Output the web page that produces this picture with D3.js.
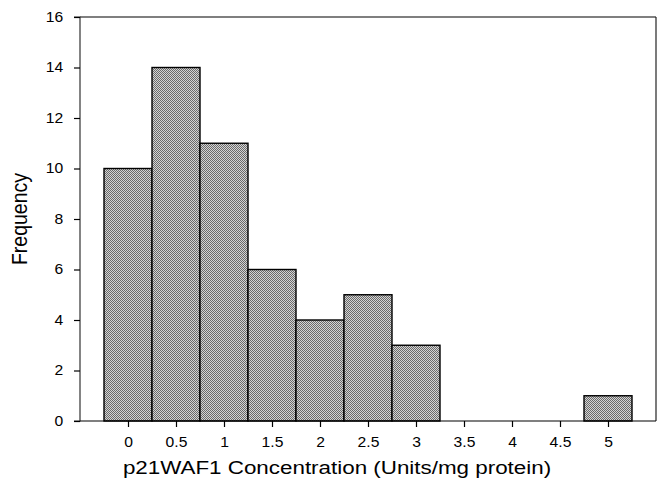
<!DOCTYPE html>
<html><head><meta charset="utf-8">
<script src="https://cdn.jsdelivr.net/npm/d3@7"></script>
<style>body{margin:0;background:#fff;} svg{display:block;font-family:"Liberation Sans",Arial,sans-serif;}</style>
</head><body>
<script>
const categories = [0, 0.5, 1, 1.5, 2, 2.5, 3, 3.5, 4, 4.5, 5];
const frequency = [10, 14, 11, 6, 4, 5, 3, 0, 0, 0, 1];
const yTicks = [0, 2, 4, 6, 8, 10, 12, 14, 16];
const xTickLabels = ["0","0.5","1","1.5","2","2.5","3","3.5","4","4.5","5"];

const W = 662, H = 485;
const svg = d3.select("body").append("svg").attr("width", W).attr("height", H);
const defs = svg.append("defs");
const pat = defs.append("pattern").attr("id","dither").attr("width",2).attr("height",2).attr("patternUnits","userSpaceOnUse");
pat.append("rect").attr("width",2).attr("height",2).attr("fill","#d4d4d4");
pat.append("rect").attr("x",0).attr("y",0).attr("width",1).attr("height",1).attr("fill","#6a6a6a");
pat.append("rect").attr("x",1).attr("y",1).attr("width",1).attr("height",1).attr("fill","#6a6a6a");

const L = 80, R = 656, T = 17, B = 421;
const x = d3.scaleLinear().domain([-0.5, 5.5]).range([L, R]);
const y = d3.scaleLinear().domain([0, 16]).range([B, T]);
const bw = 0.5;
const sx = 1.12;

// bars
svg.append("g").selectAll("rect").data(categories).join("rect")
  .attr("x", d => x(d - bw/2))
  .attr("width", d => x(d + bw/2) - x(d - bw/2))
  .attr("y", (d,i) => y(frequency[i]))
  .attr("height", (d,i) => y(0) - y(frequency[i]))
  .attr("fill", (d,i) => frequency[i] > 0 ? "url(#dither)" : "none")
  .attr("stroke", (d,i) => frequency[i] > 0 ? "#000" : "none")
  .attr("stroke-width", 1.4);

// frame top/right
svg.append("line").attr("x1",L).attr("x2",R).attr("y1",T).attr("y2",T).attr("stroke","#000").attr("stroke-width",1.2);
svg.append("line").attr("x1",R).attr("x2",R).attr("y1",T).attr("y2",B).attr("stroke","#222").attr("stroke-width",1.2);

// y axis
const yAxis = d3.axisLeft(y).tickValues(yTicks).tickFormat(d3.format("d")).tickSize(6).tickPadding(9);
const gy = svg.append("g").attr("transform",`translate(${L},0)`).call(yAxis);
gy.select(".domain").attr("stroke","#333").attr("stroke-width",1.2).attr("d",`M-6,${T}H0V${B}H-6`);
gy.selectAll(".tick line").attr("stroke","#000").attr("stroke-width",1.2);
gy.selectAll(".tick text").attr("font-size",14).attr("fill","#000")
  .attr("font-family","Liberation Sans, Arial, sans-serif")
  .attr("transform",`scale(${sx},1)`);

// x axis
const xAxis = d3.axisBottom(x).tickValues(categories).tickFormat((d,i) => xTickLabels[i]).tickSize(6).tickPadding(10);
const gx = svg.append("g").attr("transform",`translate(0,${B})`).call(xAxis);
gx.select(".domain").attr("stroke","#000").attr("stroke-width",1.2).attr("d",`M${L},0H${R}`);
gx.selectAll(".tick line").attr("stroke","#000").attr("stroke-width",1.2);
gx.selectAll(".tick text").attr("font-size",14).attr("fill","#000")
  .attr("font-family","Liberation Sans, Arial, sans-serif")
  .attr("transform",`scale(${sx},1)`);

// titles
svg.append("text").attr("transform",`translate(${(L+R)/2 - 31},474) scale(1.28,1)`).attr("text-anchor","middle")
  .attr("font-size",17.5).attr("fill","#000").text("p21WAF1 Concentration (Units/mg protein)");
svg.append("text").attr("transform",`translate(27,${(T+B)/2}) rotate(-90) scale(1,1.15)`).attr("text-anchor","middle")
  .attr("font-size",19.5).attr("fill","#000").text("Frequency");
</script>
</body></html>
